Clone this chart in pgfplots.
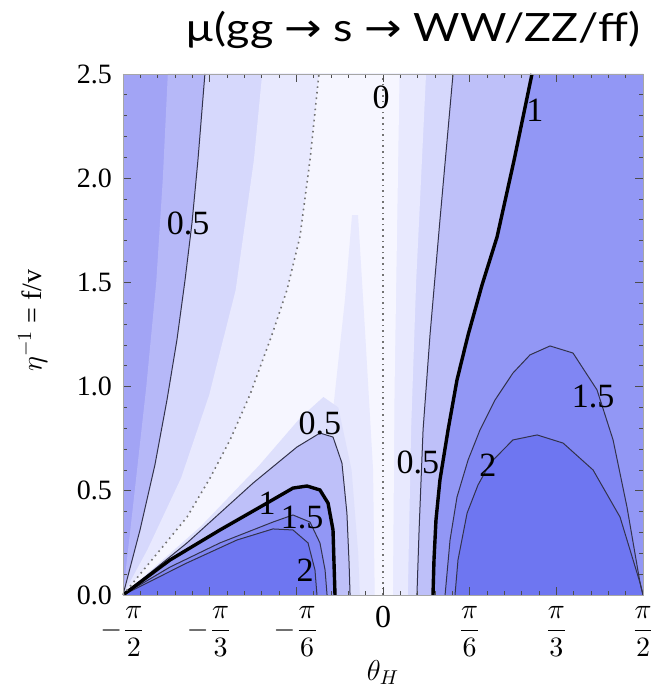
\documentclass[border=0pt]{standalone}
\usepackage{amsmath}
\usepackage{graphicx}
\usepackage{fontspec}
\setmainfont{Liberation Serif}
\newfontfamily\titlefont{Lato}
\newfontfamily\symfont{DejaVu Sans}
\usepackage{pgfplots}
\pgfplotsset{compat=1.18}

\definecolor{cA}{RGB}{162,164,245}
\definecolor{cB}{RGB}{182,184,248}
\definecolor{cC}{RGB}{214,216,252}
\definecolor{cD}{RGB}{232,233,254}
\definecolor{cE}{RGB}{246,246,255}
\definecolor{cHalo}{RGB}{222,224,252}
\definecolor{cF}{RGB}{190,192,249}
\definecolor{cG}{RGB}{146,151,245}
\definecolor{cH}{RGB}{128,134,243}
\definecolor{cI}{RGB}{110,118,241}
\definecolor{cline}{RGB}{50,50,75}

\tikzset{
    contour/.style={cline, line width=0.5pt},
    clab/.style={font=\fontsize{17}{19}\selectfont, inner sep=0pt},
}
\newcommand{\pfr}[1]{\scalebox{1.4}{$#1$}}

\begin{document}
\begin{tikzpicture}
\begin{axis}[
    scale only axis,
    width=260pt, height=260.5pt,
    xmin=-1.5708, xmax=1.5708,
    ymin=0, ymax=2.5,
    xtick={-1.5708,-1.0472,-0.5236,0,0.5236,1.0472,1.5708},
    xticklabels={\pfr{-\dfrac{\pi}{2}},\pfr{-\dfrac{\pi}{3}},\pfr{-\dfrac{\pi}{6}},{\fontsize{16}{18}\selectfont 0},\pfr{\dfrac{\pi}{6}},\pfr{\dfrac{\pi}{3}},\pfr{\dfrac{\pi}{2}}},
    ytick={0,0.5,1,1.5,2,2.5},
    yticklabel style={font=\fontsize{14}{16}\selectfont, xshift=-2pt, /pgf/number format/.cd, fixed, fixed zerofill, precision=1, assume math mode=true},
    xticklabel style={yshift=-2pt},
    minor x tick num=4,
    minor y tick num=4,
    tick align=inside,
    major tick length=4pt,
    minor tick length=2pt,
    tick style={black!70, line width=0.4pt},
    axis line style={black!35},
    axis on top,
    xlabel={$\theta_H$},
    ylabel={$\eta^{-1}$ = f/v},
    label style={font=\fontsize{14}{16}\selectfont},
    xlabel style={yshift=5pt},
    ylabel style={yshift=8pt, xshift=7pt},
]
% shaded bands, back to front
\addplot[draw=none, fill=cA] coordinates {(-1.5708,0) (-1.5708,2.5) (1.5708,2.5) (1.5708,0)} -- cycle;
\addplot[draw=none, fill=cB] coordinates {
    (-1.5708,0) (-1.50,0.5) (-1.43,1.0) (-1.37,1.5) (-1.33,2.0) (-1.30,2.5)
    (0.423,2.5) (0.344,1.799) (0.284,1.248) (0.242,0.792) (0.218,0.312) (0.205,0)} -- cycle;
\addplot[draw=none, fill=cC] coordinates {
    (-1.571,0) (-1.468,0.312) (-1.378,0.624) (-1.305,0.936) (-1.245,1.224) (-1.196,1.511)
    (-1.154,1.785) (-1.118,2.087) (-1.076,2.5)
    (0.423,2.5) (0.344,1.799) (0.284,1.248) (0.242,0.792) (0.218,0.312) (0.205,0)} -- cycle;
\addplot[draw=none, fill=cD] coordinates {
    (-1.571,0) (-1.424,0.216) (-1.22,0.561) (-1.05,0.960) (-0.89,1.464) (-0.78,2.087) (-0.73,2.5)
    (0.26,2.5) (0.20,1.5) (0.17,0.8) (0.15,0)} -- cycle;
\addplot[draw=none, fill=cE] coordinates {
    (-1.571,0) (-1.511,0.058) (-1.347,0.216) (-1.184,0.374) (-1.045,0.561) (-0.924,0.744)
    (-0.804,0.960) (-0.671,1.248) (-0.580,1.464) (-0.502,1.718) (-0.441,2.087) (-0.387,2.5)
    (0.10,2.5) (0.07,1.0) (0.06,0)} -- cycle;
\addplot[draw=none, fill=cD] coordinates {
    (-0.30,0.9) (-0.230,1.416) (-0.187,1.823) (-0.151,1.823) (-0.109,1.272)
    (-0.06,0.6) (-0.05,0) (-0.19,0)} -- cycle;
\addplot[draw=none, fill=cHalo] coordinates {
    (-1.571,0) (-1.1,0.33) (-0.75,0.62) (-0.5,0.85) (-0.36,0.95) (-0.27,0.9)
    (-0.19,0.6) (-0.15,0.2) (-0.14,0)} -- cycle;
% left lobe
\addplot[draw=none, fill=cF] coordinates {
    (-1.571,0) (-1.184,0.250) (-0.785,0.537) (-0.520,0.710) (-0.381,0.777) (-0.302,0.758)
    (-0.248,0.633) (-0.218,0.393) (-0.205,0.154) (-0.199,0)} -- cycle;
\addplot[draw=none, fill=cG] coordinates {
    (-1.571,0) (-1.287,0.168) (-0.985,0.312) (-0.701,0.441) (-0.544,0.513) (-0.459,0.523)
    (-0.381,0.504) (-0.332,0.441) (-0.302,0.312) (-0.296,0.154) (-0.290,0)} -- cycle;
\addplot[draw=none, fill=cH] coordinates {
    (-1.571,0) (-1.287,0.134) (-0.985,0.250) (-0.665,0.350) (-0.544,0.384) (-0.441,0.350)
    (-0.381,0.250) (-0.350,0.120) (-0.338,0)} -- cycle;
\addplot[draw=none, fill=cI] coordinates {
    (-1.571,0) (-1.184,0.154) (-0.882,0.264) (-0.665,0.317) (-0.544,0.312) (-0.453,0.250)
    (-0.411,0.120) (-0.399,0)} -- cycle;
% right side
\addplot[draw=none, fill=cF] coordinates {
    (0.205,0) (0.218,0.312) (0.242,0.792) (0.284,1.248) (0.344,1.799) (0.423,2.5)
    (0.900,2.5) (0.792,2.087) (0.689,1.718) (0.598,1.487) (0.514,1.248) (0.447,1.032)
    (0.393,0.792) (0.344,0.552) (0.320,0.360) (0.308,0.168) (0.302,0)} -- cycle;
\addplot[draw=none, fill=cG] coordinates {
    (0.302,0) (0.308,0.168) (0.320,0.360) (0.344,0.552) (0.393,0.792) (0.447,1.032)
    (0.514,1.248) (0.598,1.487) (0.689,1.718) (0.792,2.087) (0.900,2.5)
    (1.5708,2.5) (1.5708,0)} -- cycle;
\addplot[draw=none, fill=cH] coordinates {
    (0.375,0) (0.405,0.264) (0.447,0.470) (0.514,0.648) (0.586,0.792) (0.677,0.936)
    (0.785,1.065) (0.888,1.152) (1.009,1.195) (1.148,1.161) (1.293,0.984) (1.390,0.744)
    (1.474,0.422) (1.553,0.058) (1.571,0)} -- cycle;
\addplot[draw=none, fill=cI] coordinates {
    (0.435,0) (0.453,0.168) (0.508,0.393) (0.574,0.528) (0.647,0.633) (0.785,0.744)
    (0.931,0.768) (1.088,0.729) (1.269,0.600) (1.432,0.374) (1.553,0.058) (1.571,0)} -- cycle;

% contour lines
\addplot[contour] coordinates {
    (-1.571,0) (-1.468,0.312) (-1.378,0.624) (-1.305,0.936) (-1.245,1.224) (-1.196,1.511)
    (-1.154,1.785) (-1.118,2.087) (-1.076,2.5)};
\addplot[contour] coordinates {
    (-1.571,0) (-1.184,0.250) (-0.785,0.537) (-0.520,0.710) (-0.381,0.777) (-0.302,0.758)
    (-0.248,0.633) (-0.218,0.393) (-0.205,0.154) (-0.199,0)};
\addplot[contour] coordinates {
    (-1.571,0) (-1.287,0.134) (-0.985,0.250) (-0.665,0.350) (-0.544,0.384) (-0.441,0.350)
    (-0.381,0.250) (-0.350,0.120) (-0.338,0)};
\addplot[contour] coordinates {
    (-1.571,0) (-1.184,0.154) (-0.882,0.264) (-0.665,0.317) (-0.544,0.312) (-0.453,0.250)
    (-0.411,0.120) (-0.399,0)};
\addplot[contour] coordinates {
    (0.205,0) (0.218,0.312) (0.242,0.792) (0.284,1.248) (0.344,1.799) (0.423,2.5)};
\addplot[contour] coordinates {
    (0.375,0) (0.405,0.264) (0.447,0.470) (0.514,0.648) (0.586,0.792) (0.677,0.936)
    (0.785,1.065) (0.888,1.152) (1.009,1.195) (1.148,1.161) (1.293,0.984) (1.390,0.744)
    (1.474,0.422) (1.553,0.058) (1.571,0)};
\addplot[contour] coordinates {
    (0.435,0) (0.453,0.168) (0.508,0.393) (0.574,0.528) (0.647,0.633) (0.785,0.744)
    (0.931,0.768) (1.088,0.729) (1.269,0.600) (1.432,0.374) (1.553,0.058) (1.571,0)};
% mu = 1
\addplot[black, line width=1.7pt] coordinates {
    (-1.571,0) (-1.287,0.168) (-0.985,0.312) (-0.701,0.441) (-0.544,0.513) (-0.459,0.523)
    (-0.381,0.504) (-0.332,0.441) (-0.302,0.312) (-0.296,0.154) (-0.290,0)};
\addplot[black, line width=1.7pt] coordinates {
    (0.302,0) (0.308,0.168) (0.320,0.360) (0.344,0.552) (0.393,0.792) (0.447,1.032)
    (0.514,1.248) (0.598,1.487) (0.689,1.718) (0.792,2.087) (0.900,2.5)};
% mu = 0
\addplot[black!55, line width=0.8pt, dotted] coordinates {
    (-1.571,0) (-1.511,0.058) (-1.347,0.216) (-1.184,0.374) (-1.045,0.561) (-0.924,0.744)
    (-0.804,0.960) (-0.671,1.248) (-0.580,1.464) (-0.502,1.718) (-0.441,2.087) (-0.387,2.5)};
\addplot[black!55, line width=0.8pt, dotted] coordinates {(0,0) (0,2.5)};

% contour labels
\node[clab] at (axis cs:-1.178,1.785) {0.5};
\node[clab] at (axis cs:-0.012,2.39) {0};
\node[clab] at (axis cs:0.918,2.327) {1};
\node[clab] at (axis cs:-0.381,0.825) {0.5};
\node[clab] at (axis cs:-0.70,0.44) {1};
\node[clab] at (axis cs:-0.489,0.374) {1.5};
\node[clab] at (axis cs:-0.471,0.12) {2};
\node[clab] at (axis cs:0.211,0.638) {0.5};
\node[clab] at (axis cs:0.634,0.624) {2};
\node[clab] at (axis cs:1.269,0.95) {1.5};

\coordinate (ll) at (rel axis cs:0,0);
\coordinate (ur) at (rel axis cs:1,1);
\coordinate (tt) at (rel axis cs:0.558,1);
\end{axis}
\node[anchor=base, inner sep=0pt] at ([yshift=16pt]tt)
    {\scalebox{1.15}[1]{\titlefont\fontsize{19.5}{24}\selectfont µ(gg {\symfont →} s {\symfont →} WW/ZZ/ff)}};
\pgfresetboundingbox
\path ([xshift=-61.5pt,yshift=-49.5pt]ll) rectangle ([xshift=5.5pt,yshift=37pt]ur);
\end{tikzpicture}
\end{document}
